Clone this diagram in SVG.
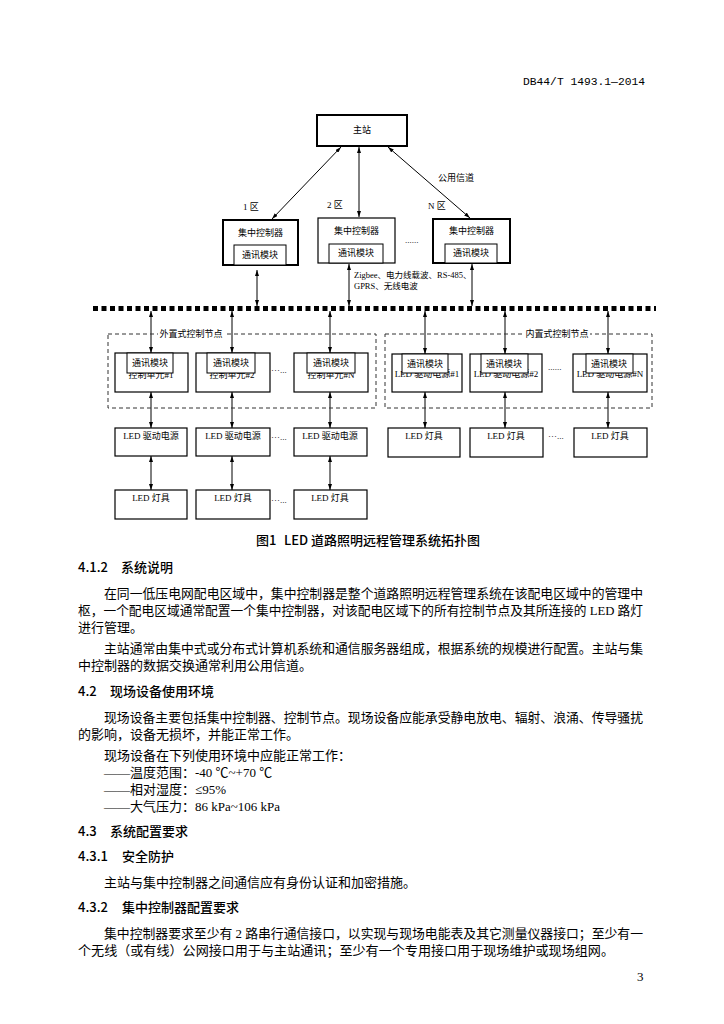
<svg xmlns="http://www.w3.org/2000/svg" width="724" height="1024" viewBox="0 0 724 1024">
<defs>
<marker id="ah" viewBox="0 0 6 4" refX="6" refY="2" markerWidth="6" markerHeight="4" markerUnits="userSpaceOnUse" orient="auto-start-reverse"><path d="M0,0 L6,2 L0,4 z" fill="#000"/></marker>
<style>
.dt{font-family:"Liberation Serif","Noto Sans CJK SC",serif;font-size:9px;fill:#000}
.bx{fill:#fff;stroke:#000;stroke-width:1.2}
.bb{fill:#fff;stroke:#000;stroke-width:2}
.cm{fill:#fff;stroke:#000;stroke-width:1}
.ar{stroke:#000;stroke-width:1;fill:none;marker-start:url(#ah);marker-end:url(#ah)}
.dash{fill:none;stroke:#333;stroke-width:1;stroke-dasharray:4 3}
.body{font-family:"Liberation Serif","Noto Sans CJK SC",serif;font-size:13px;fill:#000}
.hd{font-family:"Noto Sans CJK SC",sans-serif;font-size:13px;font-weight:500;fill:#000}
</style>
</defs>
<rect width="724" height="1024" fill="#fff"/>
<text x="645" y="85" text-anchor="end" font-family="Liberation Mono,Noto Sans CJK SC,monospace" font-size="11" textLength="122" lengthAdjust="spacingAndGlyphs">DB44/T 1493.1—2014</text>

<g id="connectors">
<line class="ar" x1="341" y1="147" x2="272" y2="219"/>
<line class="ar" x1="359" y1="147" x2="359" y2="217"/>
<line class="ar" x1="388" y1="147" x2="470" y2="218"/>
<line class="ar" x1="257" y1="270" x2="257" y2="306"/>
<line class="ar" x1="349" y1="264" x2="349" y2="306"/>
<line class="ar" x1="472" y1="264" x2="472" y2="306"/>
<line class="ar" x1="151" y1="311" x2="151" y2="353"/>
<line class="ar" x1="232" y1="311" x2="232" y2="353"/>
<line class="ar" x1="330" y1="311" x2="330" y2="353"/>
<line class="ar" x1="425" y1="311" x2="425" y2="354"/>
<line class="ar" x1="505" y1="311" x2="505" y2="354"/>
<line class="ar" x1="608" y1="311" x2="608" y2="354"/>
<line class="ar" x1="151" y1="392" x2="151" y2="428"/>
<line class="ar" x1="232" y1="392" x2="232" y2="428"/>
<line class="ar" x1="330" y1="392" x2="330" y2="428"/>
<line class="ar" x1="425" y1="392" x2="425" y2="428"/>
<line class="ar" x1="505" y1="392" x2="505" y2="428"/>
<line class="ar" x1="608" y1="392" x2="608" y2="428"/>
<line class="ar" x1="151" y1="456" x2="151" y2="490"/>
<line class="ar" x1="232" y1="456" x2="232" y2="490"/>
<line class="ar" x1="330" y1="456" x2="330" y2="490"/>
</g>

<g id="bus"><line x1="93" y1="308.5" x2="656" y2="308.5" stroke="#000" stroke-width="5" stroke-dasharray="5 3.5"/></g>

<g id="labels" class="dt">
<text x="438" y="181">公用信道</text>
<text x="243" y="210">1 区</text>
<text x="327" y="208">2 区</text>
<text x="428" y="209">N 区</text>
<text x="405" y="243">......</text>
<text x="354" y="278" font-size="8.5">Zigbee、电力线载波、RS-485、</text>
<text x="354" y="289" font-size="8.5">GPRS、无线电波</text>
</g>

<g id="master"><rect class="bb" x="317" y="115" width="90" height="31"/><text class="dt" x="362" y="133" text-anchor="middle">主站</text></g>

<g id="ctrl1"><rect class="bb" x="223" y="220" width="75" height="45"/><text class="dt" x="260.5" y="236" text-anchor="middle">集中控制器</text><rect class="cm" x="234" y="245" width="52" height="20"/><text class="dt" x="260" y="258" text-anchor="middle">通讯模块</text></g>
<g id="ctrl2"><rect class="bx" x="318" y="218" width="77" height="45" stroke-width="1.5"/><text class="dt" x="356.5" y="234" text-anchor="middle">集中控制器</text><rect class="cm" x="329" y="244" width="54" height="19"/><text class="dt" x="356" y="256" text-anchor="middle">通讯模块</text></g>
<g id="ctrlN"><rect class="bb" x="433" y="219" width="77" height="44"/><text class="dt" x="471.5" y="234" text-anchor="middle">集中控制器</text><rect class="cm" x="445" y="244" width="52" height="19"/><text class="dt" x="471" y="256" text-anchor="middle">通讯模块</text></g>

<g id="extGroup"><rect class="dash" x="108" y="334" width="268" height="74"/><rect x="158" y="328" width="66" height="12" fill="#fff"/><text class="dt" x="191" y="337" text-anchor="middle">外置式控制节点</text></g>
<g id="intGroup"><rect class="dash" x="385" y="334" width="267" height="74"/><rect x="524" y="328" width="66" height="12" fill="#fff"/><text class="dt" x="557" y="337" text-anchor="middle">内置式控制节点</text></g>

<g id="ext1"><rect class="bx" x="115" y="353" width="73" height="39"/><text class="dt" x="151" y="378" text-anchor="middle">控制单元#1</text><rect class="cm" x="127" y="353" width="46" height="20"/><text class="dt" x="150" y="366" text-anchor="middle">通讯模块</text></g>
<g id="ext2"><rect class="bx" x="196" y="353" width="74" height="39"/><text class="dt" x="232" y="378" text-anchor="middle">控制单元#2</text><rect class="cm" x="207" y="353" width="48" height="20"/><text class="dt" x="231" y="366" text-anchor="middle">通讯模块</text></g>
<g id="ext3"><rect class="bx" x="294" y="353" width="74" height="39"/><text class="dt" x="331" y="378" text-anchor="middle">控制单元#N</text><rect class="cm" x="307" y="353" width="48" height="20"/><text class="dt" x="331" y="366" text-anchor="middle">通讯模块</text></g>
<text class="dt" x="271" y="373">···...</text>

<g id="int1"><rect class="bx" x="392" y="354" width="70" height="38"/><text class="dt" x="427" y="377" text-anchor="middle">LED 驱动电源#1</text><rect class="cm" x="402" y="354" width="46" height="19"/><text class="dt" x="425" y="367" text-anchor="middle">通讯模块</text></g>
<g id="int2"><rect class="bx" x="470" y="354" width="72" height="38"/><text class="dt" x="506" y="377" text-anchor="middle">LED 驱动电源#2</text><rect class="cm" x="481" y="354" width="47" height="19"/><text class="dt" x="504" y="367" text-anchor="middle">通讯模块</text></g>
<g id="intN"><rect class="bx" x="573" y="354" width="74" height="38" stroke="#555" stroke-width="1.6"/><text class="dt" x="610" y="377" text-anchor="middle">LED 驱动电源#N</text><rect class="cm" x="586" y="354" width="47" height="19"/><text class="dt" x="609" y="367" text-anchor="middle">通讯模块</text></g>
<text class="dt" x="548" y="370">......</text>

<g id="drv1"><rect class="bx" x="115" y="428" width="72" height="28"/><text class="dt" x="151" y="439" text-anchor="middle">LED 驱动电源</text></g>
<g id="drv2"><rect class="bx" x="196" y="428" width="74" height="28"/><text class="dt" x="233" y="439" text-anchor="middle">LED 驱动电源</text></g>
<g id="drv3"><rect class="bx" x="294" y="428" width="73" height="28"/><text class="dt" x="330" y="439" text-anchor="middle">LED 驱动电源</text></g>
<text class="dt" x="271" y="440">···...</text>
<g id="lampI1"><rect class="bx" x="388" y="428" width="72" height="29"/><text class="dt" x="424" y="439" text-anchor="middle">LED 灯具</text></g>
<g id="lampI2"><rect class="bx" x="470" y="428" width="73" height="29"/><text class="dt" x="506" y="439" text-anchor="middle">LED 灯具</text></g>
<g id="lampI3"><rect class="bx" x="574" y="428" width="73" height="29"/><text class="dt" x="610" y="439" text-anchor="middle">LED 灯具</text></g>
<text class="dt" x="548" y="439">···...</text>

<g id="lamp1"><rect class="bx" x="115" y="490" width="72" height="29"/><text class="dt" x="151" y="501" text-anchor="middle">LED 灯具</text></g>
<g id="lamp2"><rect class="bx" x="196" y="490" width="74" height="29"/><text class="dt" x="233" y="501" text-anchor="middle">LED 灯具</text></g>
<g id="lamp3"><rect class="bx" x="294" y="490" width="73" height="29"/><text class="dt" x="330" y="501" text-anchor="middle">LED 灯具</text></g>
<text class="dt" x="271" y="503">···...</text>

<text class="hd" x="256" y="545" font-size="12" font-weight="bold">图1</text>
<text class="hd" x="284" y="545" font-size="12" font-weight="bold">LED 道路照明远程管理系统拓扑图</text>

<g id="bodytext">
<text class="hd" x="78" y="572">4.1.2</text><text class="hd" x="121" y="572">系统说明</text>
<text class="body" x="104" y="598" textLength="539" lengthAdjust="spacingAndGlyphs">在同一低压电网配电区域中，集中控制器是整个道路照明远程管理系统在该配电区域中的管理中</text>
<text class="body" x="78" y="615" textLength="565" lengthAdjust="spacingAndGlyphs">枢，一个配电区域通常配置一个集中控制器，对该配电区域下的所有控制节点及其所连接的 LED 路灯</text>
<text class="body" x="78" y="632">进行管理。</text>
<text class="body" x="104" y="653" textLength="539" lengthAdjust="spacingAndGlyphs">主站通常由集中式或分布式计算机系统和通信服务器组成，根据系统的规模进行配置。主站与集</text>
<text class="body" x="78" y="670">中控制器的数据交换通常利用公用信道。</text>
<text class="hd" x="78" y="696">4.2</text><text class="hd" x="110" y="696">现场设备使用环境</text>
<text class="body" x="104" y="722" textLength="539" lengthAdjust="spacingAndGlyphs">现场设备主要包括集中控制器、控制节点。现场设备应能承受静电放电、辐射、浪涌、传导骚扰</text>
<text class="body" x="78" y="739">的影响，设备无损坏，并能正常工作。</text>
<text class="body" x="104" y="760">现场设备在下列使用环境中应能正常工作：</text>
<text class="body" x="104" y="777">——温度范围：-40 ℃~+70 ℃</text>
<text class="body" x="104" y="794">——相对湿度：≤95%</text>
<text class="body" x="104" y="811">——大气压力：86 kPa~106 kPa</text>
<text class="hd" x="78" y="836">4.3</text><text class="hd" x="110" y="836">系统配置要求</text>
<text class="hd" x="78" y="861">4.3.1</text><text class="hd" x="122" y="861">安全防护</text>
<text class="body" x="104" y="887">主站与集中控制器之间通信应有身份认证和加密措施。</text>
<text class="hd" x="78" y="912">4.3.2</text><text class="hd" x="122" y="912">集中控制器配置要求</text>
<text class="body" x="104" y="938" textLength="539" lengthAdjust="spacingAndGlyphs">集中控制器要求至少有 2 路串行通信接口，以实现与现场电能表及其它测量仪器接口；至少有一</text>
<text class="body" x="78" y="955" textLength="536" lengthAdjust="spacingAndGlyphs">个无线（或有线）公网接口用于与主站通讯；至少有一个专用接口用于现场维护或现场组网。</text>
<text class="body" x="637" y="981" font-size="11">3</text>
</g>
</svg>
